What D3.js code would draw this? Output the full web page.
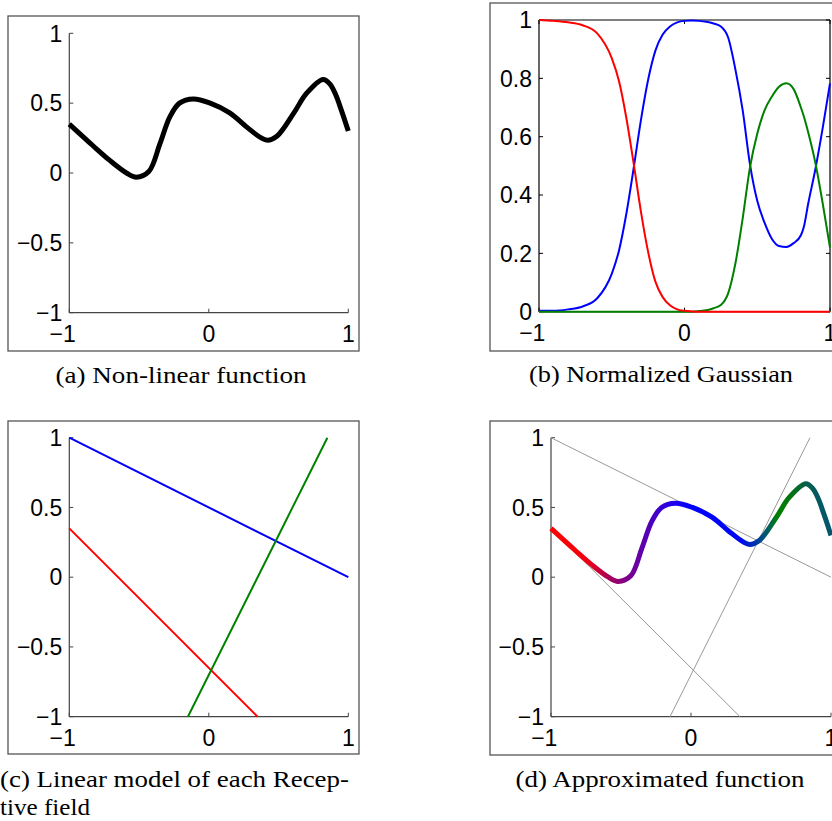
<!DOCTYPE html>
<html>
<head>
<meta charset="utf-8">
<script src="https://cdn.jsdelivr.net/npm/d3@7"></script>
<style>
  body { margin: 0; background: #fff; }
  .tick-label { font-family: "Liberation Sans", Arial, sans-serif; font-size: 23px; fill: #000; }
  .caption { font-family: "Liberation Serif", "Times New Roman", serif; font-size: 23px; fill: #000; }
</style>
</head>
<body>
<div id="figure"></div>
<script>
// ---- data ----

// (a) / (d) the non-linear function
var fnX = [-1, -0.83, -0.71, -0.59, -0.52, -0.43, -0.35, -0.28, -0.21, -0.11, 0.01, 0.15, 0.27, 0.37, 0.42, 0.49, 0.61, 0.70, 0.82, 0.87, 0.91, 0.95, 1.0];
var fnY = [0.35, 0.195, 0.09, 0.0, -0.03, 0.01, 0.21, 0.40, 0.50, 0.53, 0.50, 0.43, 0.33, 0.255, 0.235, 0.265, 0.43, 0.57, 0.67, 0.635, 0.56, 0.45, 0.30];

// (b) normalized gaussian activations
var gaussX = [-1, -0.9, -0.8, -0.7, -0.6, -0.5, -0.45, -0.4, -0.35, -0.3, -0.25, -0.2, -0.15, -0.1, -0.05, 0, 0.05, 0.1,
              0.15, 0.2, 0.25, 0.3, 0.35, 0.4, 0.45, 0.5, 0.55, 0.6, 0.65, 0.7, 0.75, 0.8, 0.82, 0.85, 0.9, 0.95, 1];
var gaussRed = [1, 0.997, 0.992, 0.982, 0.954, 0.869, 0.79, 0.665, 0.51, 0.345, 0.205, 0.103, 0.05, 0.022, 0.008, 0.003, 0.001, 0,
                0, 0, 0, 0, 0, 0, 0, 0, 0, 0, 0, 0, 0, 0, 0, 0, 0, 0, 0];
var gaussBlue = [0.003, 0.003, 0.008, 0.018, 0.046, 0.13, 0.21, 0.335, 0.49, 0.655, 0.795, 0.895, 0.95, 0.978, 0.992, 0.997, 0.998, 0.997,
                 0.994, 0.988, 0.978, 0.94, 0.83, 0.69, 0.505, 0.38, 0.305, 0.25, 0.225, 0.222, 0.235, 0.262, 0.29, 0.37, 0.49, 0.63, 0.783];
var gaussGreen = [0, 0, 0, 0, 0, 0, 0, 0, 0, 0, 0, 0, 0, 0, 0, 0, 0, 0.002,
                  0.005, 0.012, 0.023, 0.063, 0.166, 0.32, 0.495, 0.61, 0.69, 0.737, 0.771, 0.783, 0.763, 0.70, 0.67, 0.615, 0.509, 0.371, 0.22];

// (c) / (d) linear model of each receptive field: [x, y] at both ends
var fieldNames = ["red", "blue", "green"];
var fieldStart = [[-1, 0.35], [-1, 1], [-0.15, -1]];
var fieldEnd = [[0.35, -1], [1, 0], [0.85, 1]];

// tick values and labels
var xTicks = [-1, 0, 1];
var yTicksA = [-1, -0.5, 0, 0.5, 1];
var yTicksB = [0, 0.2, 0.4, 0.6, 0.8, 1];

// ---- styles ----
var fieldColor = { red: "#ff0000", blue: "#0000ff", green: "#008000" };
// colour of the approximated curve along x
var approxStops = [
    [-1, "#ff0000"], [-0.75, "#f2000e"], [-0.55, "#9a0068"], [-0.45, "#7a0090"], [-0.3, "#5200b8"],
    [-0.15, "#2400e6"], [0, "#0000ff"], [0.35, "#0008f0"], [0.45, "#0030b0"], [0.55, "#006060"],
    [0.62, "#008000"], [0.72, "#057212"], [0.82, "#06604a"], [0.9, "#055a62"], [1, "#04566c"]
];

function fmt(v) {
    return String(v).replace("-", "\u2212");
}

var svg = d3.select("#figure")
            .append("svg")
            .attr("width", 832)
            .attr("height", 821);

// draws frame + axes for one panel and returns scales
function makePanel(p) {
    svg.append("rect")
       .attr("x", p.frame[0]).attr("y", p.frame[1])
       .attr("width", p.frame[2]).attr("height", p.frame[3])
       .attr("fill", "none")
       .attr("stroke", "#555")
       .attr("stroke-width", 1.3);

    var x = d3.scaleLinear().domain([-1, 1]).range([p.left, p.right]);
    var y = d3.scaleLinear().domain(p.yDomain).range([p.bottom, p.top]);

    var g = svg.append("g");
    var axisColor = p.box ? "#000" : "#444";

    // axis lines
    g.append("line").attr("x1", p.left).attr("x2", p.left).attr("y1", p.top).attr("y2", p.bottom)
     .attr("stroke", axisColor).attr("stroke-width", 1.2);
    g.append("line").attr("x1", p.left).attr("x2", p.right).attr("y1", p.bottom).attr("y2", p.bottom)
     .attr("stroke", axisColor).attr("stroke-width", 1.2);
    if (p.box) {
        g.append("line").attr("x1", p.right).attr("x2", p.right).attr("y1", p.top).attr("y2", p.bottom)
         .attr("stroke", axisColor).attr("stroke-width", 1.2);
        g.append("line").attr("x1", p.left).attr("x2", p.right).attr("y1", p.top).attr("y2", p.top)
         .attr("stroke", axisColor).attr("stroke-width", 1.2);
    }

    // inward ticks
    g.selectAll(".ytick").data(p.yTicks).enter().append("line")
     .attr("x1", p.left).attr("x2", p.left + 4)
     .attr("y1", d => y(d)).attr("y2", d => y(d))
     .attr("stroke", axisColor).attr("stroke-width", 1);
    g.selectAll(".xtick").data(xTicks).enter().append("line")
     .attr("x1", d => x(d)).attr("x2", d => x(d))
     .attr("y1", p.bottom).attr("y2", p.bottom - 4)
     .attr("stroke", axisColor).attr("stroke-width", 1);
    if (p.box) {
        g.selectAll(".ytick2").data(p.yTicks).enter().append("line")
         .attr("x1", p.right).attr("x2", p.right - 4)
         .attr("y1", d => y(d)).attr("y2", d => y(d))
         .attr("stroke", axisColor).attr("stroke-width", 1);
        g.selectAll(".xtick2").data(xTicks).enter().append("line")
         .attr("x1", d => x(d)).attr("x2", d => x(d))
         .attr("y1", p.top).attr("y2", p.top + 4)
         .attr("stroke", axisColor).attr("stroke-width", 1);
    }

    // tick labels
    g.selectAll(".ylab").data(p.yTicks).enter().append("text")
     .attr("class", "tick-label")
     .attr("x", p.left - 7)
     .attr("y", d => y(d))
     .attr("dy", "0.36em")
     .attr("text-anchor", "end")
     .text(fmt);
    // digit centred on tick, minus hanging to the left
    g.selectAll(".xlab").data(xTicks).enter().append("text")
     .attr("class", "tick-label")
     .attr("x", d => x(d) + 6.4)
     .attr("y", p.bottom + 29)
     .attr("text-anchor", "end")
     .text(fmt);

    // caption (Computer Modern is wider than Times, so stretch to the measured width)
    var cap = svg.append("text")
                 .attr("class", "caption")
                 .attr("x", p.capX)
                 .attr("y", p.capY)
                 .attr("text-anchor", p.capAnchor || "middle")
                 .attr("textLength", p.capWidth)
                 .attr("lengthAdjust", "spacingAndGlyphs");
    if (p.capLines) {
        cap.text(p.capLines[0]);
        svg.append("text").attr("class", "caption")
           .attr("x", p.capX).attr("y", p.capY + 28)
           .attr("textLength", p.capWidth2)
           .attr("lengthAdjust", "spacingAndGlyphs")
           .text(p.capLines[1]);
    } else {
        cap.text(p.caption);
    }

    return { x: x, y: y, g: g };
}

var fnData = fnX.map((d, i) => ({ x: d, y: fnY[i] }));

// (a) Non-linear function
var pa = makePanel({
    frame: [8, 16, 351, 335], left: 69.3, right: 348.3, top: 33.3, bottom: 312.7,
    yDomain: [-1, 1], yTicks: yTicksA,
    caption: "(a) Non-linear function", capX: 181, capY: 383, capWidth: 251
});
var fnLineA = d3.line().x(d => pa.x(d.x)).y(d => pa.y(d.y)).curve(d3.curveCatmullRom.alpha(0.5));
pa.g.append("path")
    .datum(fnData)
    .attr("d", fnLineA)
    .attr("fill", "none")
    .attr("stroke", "#000")
    .attr("stroke-width", 5)
    .attr("stroke-linejoin", "round");

// (b) Normalized Gaussian
var pb = makePanel({
    frame: [490, 3, 360, 348], left: 539, right: 830, top: 20, bottom: 311.7, box: true,
    yDomain: [0, 1], yTicks: yTicksB,
    caption: "(b) Normalized Gaussian", capX: 661, capY: 382, capWidth: 264
});
var gaussSeries = [
    { name: "blue", values: gaussBlue },
    { name: "green", values: gaussGreen },
    { name: "red", values: gaussRed }
];
var gaussLine = d3.line().x((d, i) => pb.x(gaussX[i])).y(d => pb.y(d)).curve(d3.curveMonotoneX);
pb.g.selectAll(".gauss")
    .data(gaussSeries)
    .enter()
    .append("path")
    .attr("d", d => gaussLine(d.values))
    .attr("fill", "none")
    .attr("stroke", d => fieldColor[d.name])
    .attr("stroke-width", 2);

// (c) Linear model of each Receptive field
var pc = makePanel({
    frame: [8, 421, 351, 333], left: 69.3, right: 348.3, top: 437.7, bottom: 716.7,
    yDomain: [-1, 1], yTicks: yTicksA,
    capLines: ["(c) Linear model of each Recep-", "tive field"], capX: 0, capY: 787, capAnchor: "start",
    capWidth: 349, capWidth2: 90
});
pc.g.selectAll(".field")
    .data(fieldNames)
    .enter()
    .append("line")
    .attr("x1", (d, i) => pc.x(fieldStart[i][0]))
    .attr("y1", (d, i) => pc.y(fieldStart[i][1]))
    .attr("x2", (d, i) => pc.x(fieldEnd[i][0]))
    .attr("y2", (d, i) => pc.y(fieldEnd[i][1]))
    .attr("stroke", d => fieldColor[d])
    .attr("stroke-width", 2);

// (d) Approximated function
var pd = makePanel({
    frame: [490, 421, 360, 334], left: 551, right: 831, top: 437.7, bottom: 716.7,
    yDomain: [-1, 1], yTicks: yTicksA,
    caption: "(d) Approximated function", capX: 660, capY: 787, capWidth: 289
});
pd.g.selectAll(".field")
    .data(fieldNames)
    .enter()
    .append("line")
    .attr("x1", (d, i) => pd.x(fieldStart[i][0]))
    .attr("y1", (d, i) => pd.y(fieldStart[i][1]))
    .attr("x2", (d, i) => pd.x(fieldEnd[i][0]))
    .attr("y2", (d, i) => pd.y(fieldEnd[i][1]))
    .attr("stroke", "#999")
    .attr("stroke-width", 1);

var grad = svg.append("defs")
              .append("linearGradient")
              .attr("id", "approxGrad")
              .attr("gradientUnits", "userSpaceOnUse")
              .attr("x1", pd.x(-1)).attr("x2", pd.x(1))
              .attr("y1", 0).attr("y2", 0);
grad.selectAll("stop")
    .data(approxStops)
    .enter()
    .append("stop")
    .attr("offset", d => (d[0] + 1) / 2)
    .attr("stop-color", d => d[1]);

var fnLineD = d3.line().x(d => pd.x(d.x)).y(d => pd.y(d.y)).curve(d3.curveCatmullRom.alpha(0.5));
pd.g.append("path")
    .datum(fnData)
    .attr("d", fnLineD)
    .attr("fill", "none")
    .attr("stroke", "url(#approxGrad)")
    .attr("stroke-width", 5)
    .attr("stroke-linejoin", "round");
</script>
</body>
</html>
